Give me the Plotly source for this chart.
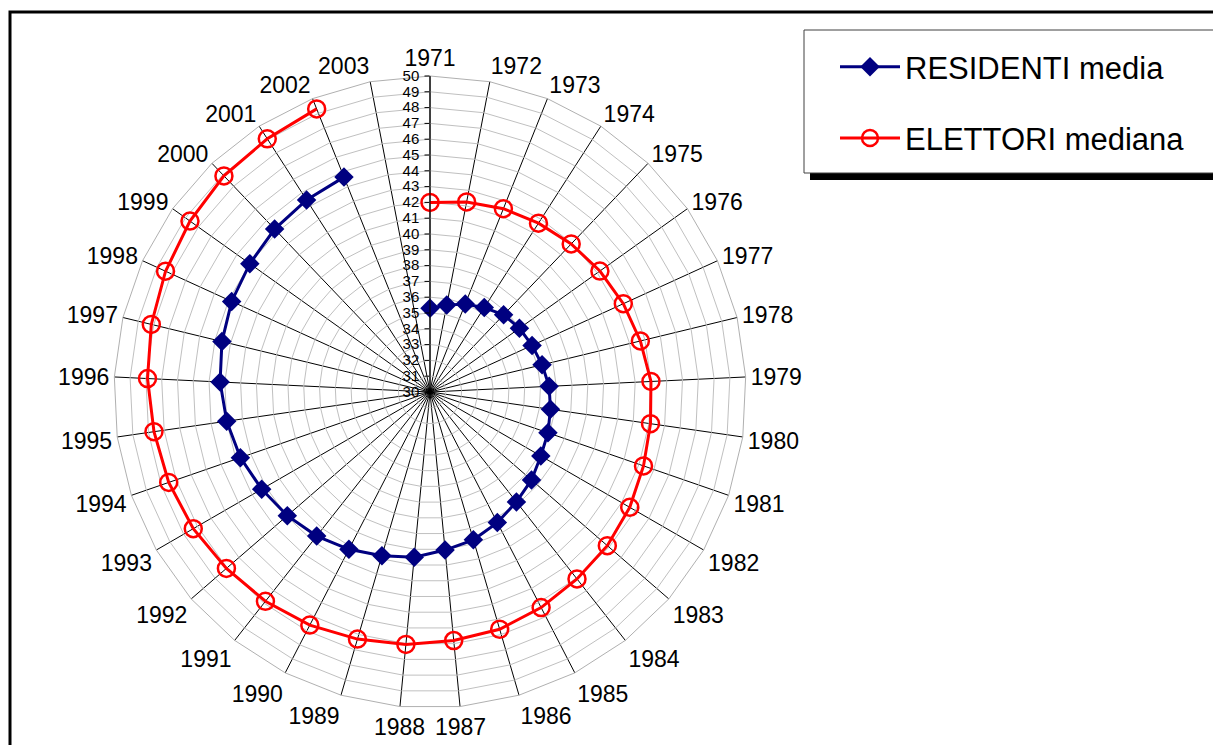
import plotly.graph_objects as go

years = ["1971", "1972", "1973", "1974", "1975", "1976", "1977", "1978", "1979", "1980",
         "1981", "1982", "1983", "1984", "1985", "1986", "1987", "1988", "1989", "1990",
         "1991", "1992", "1993", "1994", "1995", "1996", "1997", "1998", "1999", "2000",
         "2001", "2002", "2003"]

residenti_media = [35.3, 35.6, 36.0, 36.35, 36.75, 36.95, 37.1, 37.3, 37.55, 37.7,
                   37.9, 38.1, 38.5, 38.85, 39.3, 39.75, 40.05, 40.5, 40.8, 41.2,
                   41.6, 41.95, 42.3, 42.7, 43.0, 43.3, 43.55, 43.8, 44.0, 44.25,
                   44.45, 44.65, None]

elettori_mediana = [42.0, 42.25, 42.5, 42.7, 42.95, 43.2, 43.45, 43.7, 44.0, 44.1,
                    44.3, 44.6, 44.85, 45.05, 45.35, 45.65, 45.8, 46.05, 46.3, 46.6,
                    46.85, 47.05, 47.3, 47.5, 47.65, 47.9, 48.15, 48.4, 48.65, 48.9,
                    49.05, 49.3, None]

radial_ticks = list(range(30, 51))

# page has an 8px body margin: work in page pixels, convert to figure fractions
OFF = 8
W, H = 1221 - OFF, 745 - OFF
FONT = "Liberation Sans, Arial, sans-serif"


def px(x):
    return (x - OFF) / W


def py(y):
    return 1 - (y - OFF) / H


fig = go.Figure()
fig.add_trace(go.Scatterpolar(
    r=residenti_media, theta=years, mode="lines+markers", name="RESIDENTI media",
    legendgroup="a", connectgaps=False,
    line=dict(color="#000080", width=3),
    marker=dict(symbol="diamond", size=15, color="#000080"),
))
fig.add_trace(go.Scatterpolar(
    r=elettori_mediana, theta=years, mode="lines+markers", name="ELETTORI mediana",
    legendgroup="b", connectgaps=False,
    line=dict(color="#ff0000", width=3),
    marker=dict(symbol="circle-open", size=17, color="#ff0000", line=dict(width=2.5, color="#ff0000")),
))

cx, cy, R = 430, 392, 316
fig.update_layout(
    width=W, height=H,
    margin=dict(l=0, r=0, t=0, b=0),
    paper_bgcolor="white",
    plot_bgcolor="white",
    font=dict(family=FONT, color="black"),
    showlegend=True,
    polar=dict(
        domain=dict(x=[px(cx - R), px(cx + R)], y=[py(cy + R), py(cy - R)]),
        bgcolor="white",
        gridshape="linear",
        angularaxis=dict(
            type="category", categoryorder="array", categoryarray=years,
            direction="clockwise", rotation=90,
            showgrid=True, gridcolor="black", gridwidth=1,
            showline=True, linecolor="#b0b0b0", linewidth=1,
            ticks="", tickfont=dict(size=23, color="black", family=FONT),
        ),
        radialaxis=dict(
            range=[30, 50], tickvals=radial_ticks, ticktext=[str(v) for v in radial_ticks],
            angle=90, side="counterclockwise", tickangle=90,
            showgrid=True, gridcolor="#c0c0c0", gridwidth=1,
            showline=True, linecolor="black", linewidth=1,
            ticks="outside", ticklen=5, tickcolor="black",
            tickfont=dict(size=15, color="black", family=FONT),
        ),
    ),
    legend=dict(
        x=px(835), y=py(40), xanchor="left", yanchor="top",
        bgcolor="rgba(0,0,0,0)", borderwidth=0,
        font=dict(size=31, color="black", family=FONT),
        tracegroupgap=28, itemwidth=60,
    ),
    shapes=[
        # chart frame
        dict(type="rect", xref="paper", yref="paper", x0=px(10), x1=1.05, y0=-0.05, y1=py(12),
             line=dict(color="black", width=3), layer="below"),
        # legend shadow
        dict(type="rect", xref="paper", yref="paper", x0=px(810), x1=1.01, y0=py(180), y1=py(36),
             line=dict(width=0), fillcolor="black", layer="below"),
        # legend box
        dict(type="rect", xref="paper", yref="paper", x0=px(804), x1=px(1217), y0=py(173), y1=py(30),
             line=dict(color="#404040", width=1), fillcolor="white", layer="below"),
    ],
)

fig.write_html("out.html")
